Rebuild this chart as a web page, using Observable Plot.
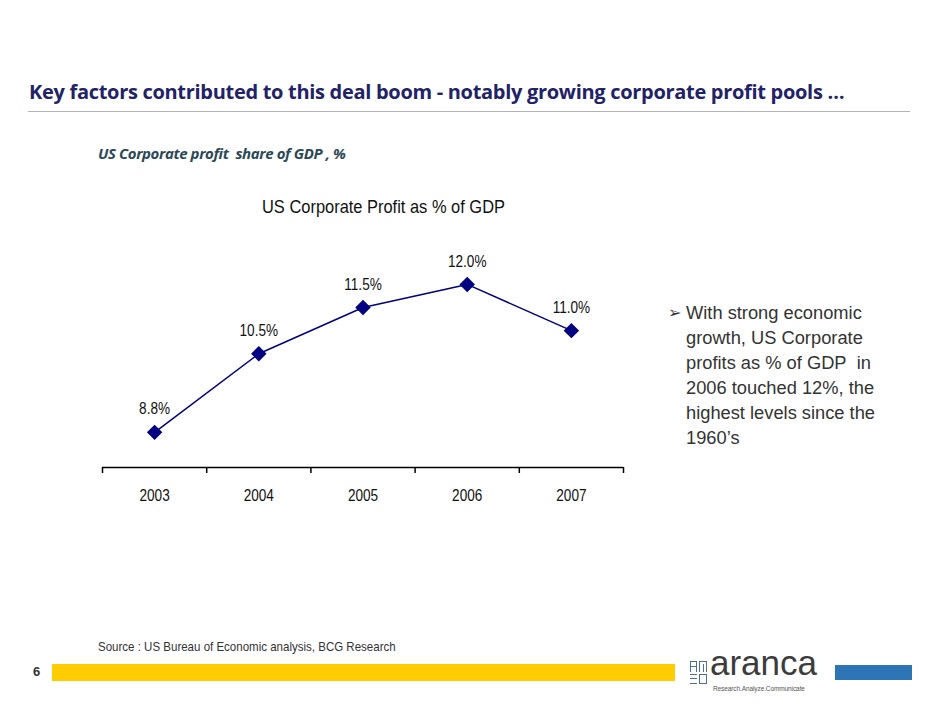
<!DOCTYPE html>
<html>
<head>
<meta charset="utf-8">
<script src="https://cdn.jsdelivr.net/npm/d3@7"></script>
<script src="https://cdn.jsdelivr.net/npm/@observablehq/plot@0.6"></script>
<style>
  html, body { margin: 0; padding: 0; background: #fff; }
  body { width: 942px; height: 728px; position: relative; overflow: hidden; font-family: "Liberation Sans", Arial, sans-serif; }
  .abs { position: absolute; white-space: nowrap; }
  #title { left: 29px; top: 78px; font-family: "Open Sans", sans-serif; font-weight: 700; font-size: 20px; color: #222266; letter-spacing: -0.3px; }
  #rule { left: 28px; top: 111px; width: 882px; height: 1px; background: #b3b3b3; }
  #sub { left: 98px; top: 143px; font-family: "Open Sans", sans-serif; font-weight: 700; font-style: italic; font-size: 15px; color: #2b4856; letter-spacing: -0.4px; }
  #ctitle { left: 262px; top: 196px; font-size: 19px; color: #111; transform: scaleX(0.865); transform-origin: left center; }
  #chart { left: 0; top: 230px; }
  #bullet { left: 668px; top: 300px; font-size: 18.3px; line-height: 25px; color: #333; }
  #bullet .arrow { position: absolute; left: 0; top: 0px; font-size: 16px; }
  #bullet .txt { margin-left: 18px; }
  #source { left: 98px; top: 639px; font-size: 12.8px; color: #333; transform: scaleX(0.9); transform-origin: left center; }
  #page { left: 33px; top: 664px; font-size: 13px; font-weight: 700; color: #333; }
  #ybar { left: 52px; top: 664px; width: 623px; height: 17px; background: #ffcc00; }
  #bbar { left: 835px; top: 665px; width: 77px; height: 15px; background: #2e75b6; }
  #logo { left: 690px; top: 656px; width: 140px; height: 34px; }
  #logo .word { position: absolute; left: 20px; top: -8px; font-size: 35px; line-height: 30px; color: #3c3c3c; letter-spacing: 0px; }
  #logo .tag { position: absolute; left: 23px; top: 29px; font-size: 6.5px; line-height: 8px; color: #555; letter-spacing: -0.1px; }
  #logo .icon { position: absolute; left: 0; top: 5px; width: 17px; height: 24px; }
  #logo .icon div { position: absolute; background: #4d6fa0; }
</style>
</head>
<body>
<div class="abs" id="title">Key factors contributed to this deal boom - notably growing corporate profit pools …</div>
<div class="abs" id="rule"></div>
<div class="abs" id="sub">US Corporate profit&nbsp; share of GDP , %</div>
<div class="abs" id="ctitle">US Corporate Profit as % of GDP</div>
<div class="abs" id="chart"></div>
<div class="abs" id="bullet"><span class="arrow">➢</span><div class="txt">With strong economic<br>growth, US Corporate<br>profits as % of GDP&nbsp; in<br>2006 touched 12%, the<br>highest levels since the<br>1960’s</div></div>
<div class="abs" id="source">Source : US Bureau of Economic analysis, BCG Research</div>
<div class="abs" id="page">6</div>
<div class="abs" id="ybar"></div>
<div class="abs" id="logo">
  <div class="icon">
    <div style="left:0;top:0;width:7px;height:1px"></div>
    <div style="left:0;top:0;width:1px;height:11px"></div>
    <div style="left:0;top:5px;width:7px;height:1px"></div>
    <div style="left:6px;top:0;width:1px;height:11px"></div>
    <div style="left:9px;top:0;width:8px;height:1px"></div>
    <div style="left:9px;top:0;width:1px;height:11px"></div>
    <div style="left:13px;top:3px;width:1px;height:8px"></div>
    <div style="left:16px;top:0;width:1px;height:11px"></div>
    <div style="left:0;top:13px;width:7px;height:1px"></div>
    <div style="left:0;top:17px;width:7px;height:1px"></div>
    <div style="left:0;top:22px;width:7px;height:1px"></div>
    <div style="left:9px;top:13px;width:8px;height:1px"></div>
    <div style="left:9px;top:13px;width:1px;height:10px"></div>
    <div style="left:9px;top:22px;width:8px;height:1px"></div>
    <div style="left:16px;top:13px;width:1px;height:10px"></div>
  </div>
  <div class="word">aranca</div>
  <div class="tag">Research.Analyze.Communicate</div>
</div>
<div class="abs" id="bbar"></div>
<script>
const years = [2003, 2004, 2005, 2006, 2007];
const values = [8.8, 10.5, 11.5, 12.0, 11.0];
const labels = ["8.8%", "10.5%", "11.5%", "12.0%", "11.0%"];
const boundaries = [2002.5, 2003.5, 2004.5, 2005.5, 2006.5, 2007.5];

const data = years.map((y, i) => ({year: y, value: values[i], label: labels[i]}));

const chart = Plot.plot({
  width: 942,
  height: 280,
  marginLeft: 102,
  marginRight: 319,
  marginTop: 10,
  marginBottom: 43,
  style: {fontFamily: `"Liberation Sans", Arial, sans-serif`, fontSize: "16px", color: "#111", background: "transparent"},
  x: {domain: [2002.5, 2007.5]},
  y: {domain: [8.04, 12.95], axis: null},
  marks: [
    Plot.axisX({ticks: boundaries, tickFormat: () => "", tickSize: 6, stroke: "#000", strokeWidth: 1.5, label: null}),
    Plot.axisX({ticks: years, tickFormat: d => String(d), tickSize: 0, tickPadding: 22, fontSize: 16, fill: "#111", label: null}),
    Plot.ruleY([8.04], {stroke: "#000", strokeWidth: 1.5}),
    Plot.line(data, {x: "year", y: "value", stroke: "#000080", strokeWidth: 1.5}),
    Plot.dot(data, {x: "year", y: "value", symbol: "diamond2", r: 6, fill: "#000080", stroke: "#000080"}),
    Plot.text(data, {x: "year", y: "value", text: "label", dy: -23, fontSize: 16, fill: "#111"})
  ]
});
document.getElementById("chart").appendChild(chart);
// condense the chart's text to mimic the narrow typeface of the original
chart.querySelectorAll("text").forEach(t => {
  if (!t.textContent) return;
  const len = t.getComputedTextLength();
  if (len > 0) {
    t.setAttribute("textLength", (len * 0.85).toFixed(2));
    t.setAttribute("lengthAdjust", "spacingAndGlyphs");
  }
});
</script>
</body>
</html>
